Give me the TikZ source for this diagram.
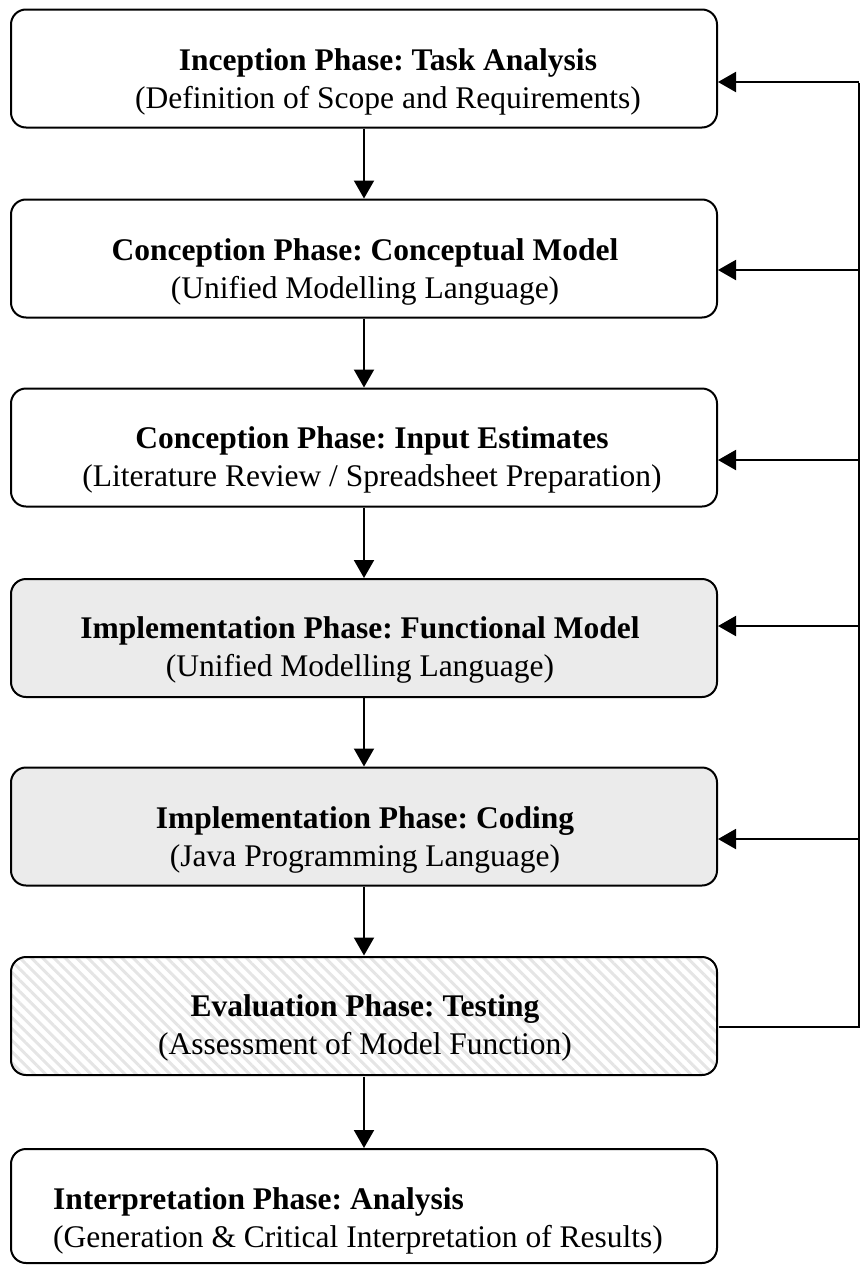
\documentclass[tikz,border=0pt]{standalone}
\usepackage{fontspec}
\setmainfont{Liberation Serif}
\usetikzlibrary{arrows.meta,patterns.meta}
\frenchspacing

\tikzset{
  phase/.style={draw=black, line width=2pt, rounded corners=15pt,
    minimum width=706pt, minimum height=118pt, inner sep=0pt},
  greyphase/.style={phase, fill=black!8},
  hatchphase/.style={phase,
    pattern={Lines[angle=-45, distance=8pt, line width=3pt]},
    pattern color=black!10},
  label/.style={align=center, inner sep=0pt,
    font=\fontsize{31.5}{37.5}\selectfont},
  flow/.style={line width=2pt, -{Triangle[length=18pt, width=20pt]}},
  loop/.style={line width=2pt}
}

\begin{document}
\begin{tikzpicture}[x=1pt, y=-1pt]
  \useasboundingbox (0,0) rectangle (861,1266);

  % phase boxes
  \node[phase]      (b1) at (364,68.5)  {};
  \node[phase]      (b2) at (364,258.5) {};
  \node[phase]      (b3) at (364,447.5) {};
  \node[greyphase]  (b4) at (364,638)   {};
  \node[greyphase]  (b5) at (364,826.5) {};
  \node[hatchphase] (b6) at (364,1016)  {};
  \node[phase, minimum height=114pt] (b7) at (364,1206) {};

  % box texts
  \node[label] (t1) at (388,82)   {\textbf{Inception Phase: Task Analysis}\\(Definition of Scope and Requirements)};
  \node[label] (t2) at (365,272)  {\textbf{Conception Phase: Conceptual Model}\\(Unified Modelling Language)};
  \node[label] (t3) at (372,460)  {\textbf{Conception Phase: Input Estimates}\\(Literature Review / Spreadsheet Preparation)};
  \node[label] (t4) at (360,650)  {\textbf{Implementation Phase: Functional Model}\\(Unified Modelling Language)};
  \node[label] (t5) at (365,840)  {\textbf{Implementation Phase: Coding}\\(Java Programming Language)};
  \node[label] (t6) at (365,1028) {\textbf{Evaluation Phase: Testing}\\(Assessment of Model Function)};
  \node[label, align=left, anchor=west] (t7) at (53,1221) {\textbf{Interpretation Phase: Analysis}\\(Generation \& Critical Interpretation of Results)};

  % main flow
  \draw[flow] (b1.south) -- (b2.north);
  \draw[flow] (b2.south) -- (b3.north);
  \draw[flow] (b3.south) -- (b4.north);
  \draw[flow] (b4.south) -- (b5.north);
  \draw[flow] (b5.south) -- (b6.north);
  \draw[flow] (b6.south) -- (b7.north);

  % feedback loop from testing back to every earlier phase
  \coordinate (r6) at (859,1027);
  \coordinate (r1) at (859,82);
  \coordinate (r2) at (859,270);
  \coordinate (r3) at (859,460);
  \coordinate (r4) at (859,626);
  \coordinate (r5) at (859,839);
  \draw[loop] (b6.east |- r6) -- (r6) -- ([yshift=-1pt]r1);
  \draw[flow] (r1) -- (b1.east |- r1);
  \draw[flow] (r2) -- (b2.east |- r2);
  \draw[flow] (r3) -- (b3.east |- r3);
  \draw[flow] (r4) -- (b4.east |- r4);
  \draw[flow] (r5) -- (b5.east |- r5);
\end{tikzpicture}
\end{document}
